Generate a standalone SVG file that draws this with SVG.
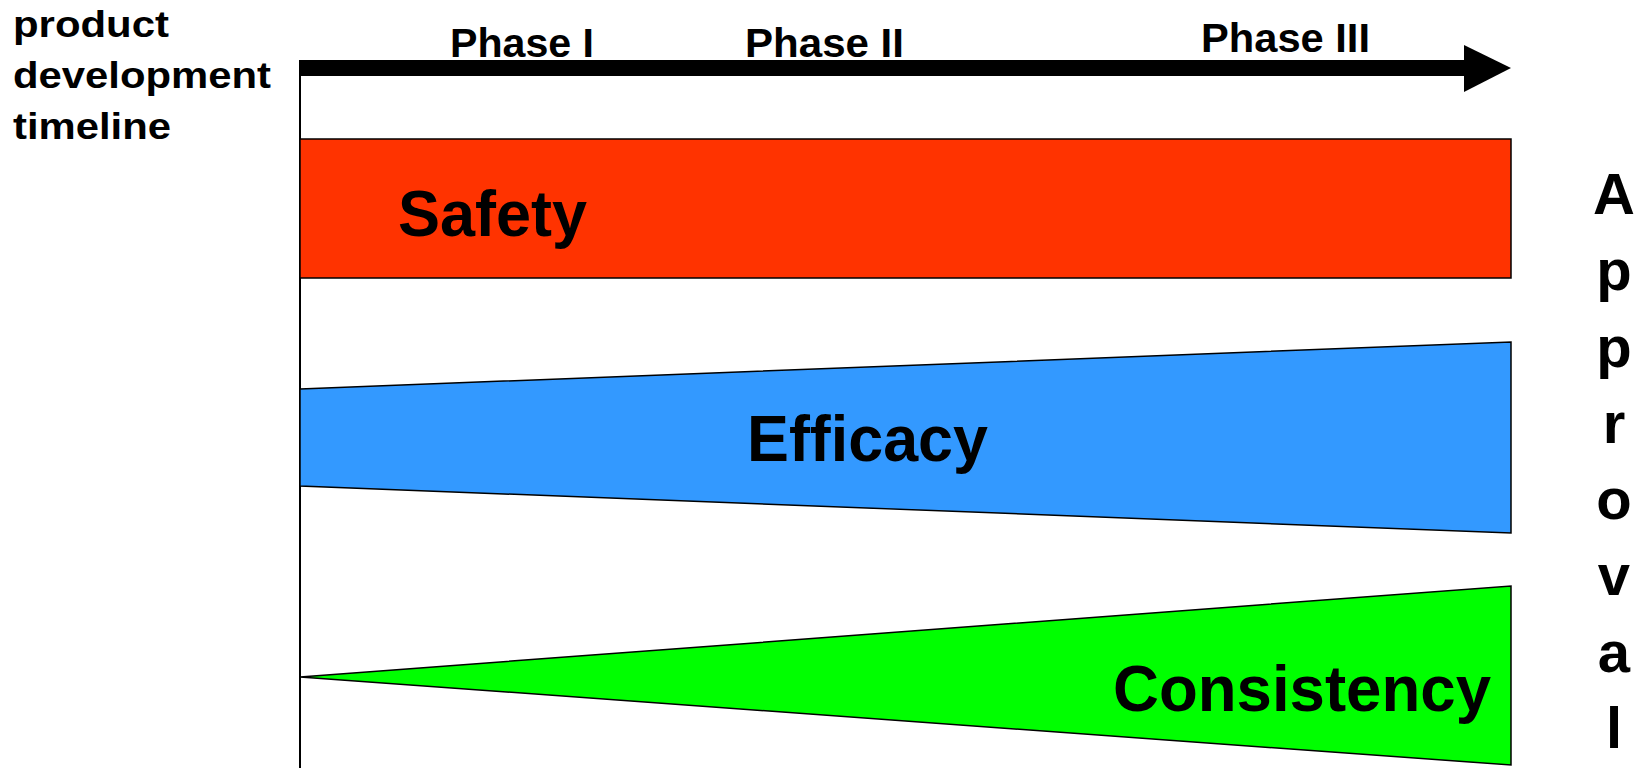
<svg xmlns="http://www.w3.org/2000/svg" width="1643" height="768" viewBox="0 0 1643 768">
  <style>
    .lbl { font-family: "Liberation Sans", Arial, sans-serif; font-weight: bold; fill: #000; }
    .side { font-size: 37px; }
    .phase { font-size: 40px; }
    .big { font-size: 64px; }
    .appr { font-size: 58px; text-anchor: middle; }
    .band { stroke: #000; stroke-width: 1.5; stroke-linejoin: miter; }
  </style>
  <rect width="1643" height="768" fill="#fff"/>

  <!-- timeline axis: vertical baseline and arrow -->
  <g id="connectors">
    <line x1="300" y1="60" x2="300" y2="768" stroke="#000" stroke-width="2"/>
    <rect x="300" y="60" width="1166" height="16" fill="#000"/>
    <polygon points="1464,45 1511,68 1464,92" fill="#000"/>
  </g>

  <g id="timeline-label">
    <text class="lbl side" x="13" y="37" textLength="156" lengthAdjust="spacingAndGlyphs">product</text>
    <text class="lbl side" x="13" y="88" textLength="258" lengthAdjust="spacingAndGlyphs">development</text>
    <text class="lbl side" x="13" y="139" textLength="158" lengthAdjust="spacingAndGlyphs">timeline</text>
  </g>

  <g id="phases">
    <text class="lbl phase" x="450" y="57" textLength="144" lengthAdjust="spacingAndGlyphs">Phase I</text>
    <text class="lbl phase" x="745" y="57" textLength="159" lengthAdjust="spacingAndGlyphs">Phase II</text>
    <text class="lbl phase" x="1201" y="52" textLength="169" lengthAdjust="spacingAndGlyphs">Phase III</text>
  </g>

  <g id="safety">
    <rect class="band" x="300" y="139" width="1211" height="139" fill="#FF3300"/>
    <text class="lbl big" x="398" y="236" textLength="189" lengthAdjust="spacingAndGlyphs">Safety</text>
  </g>

  <g id="efficacy">
    <polygon class="band" points="300,389 1511,342 1511,533 300,486" fill="#3399FF"/>
    <text class="lbl big" x="747" y="461" textLength="241" lengthAdjust="spacingAndGlyphs">Efficacy</text>
  </g>

  <g id="consistency">
    <polygon class="band" points="300,677 1511,586 1511,765" fill="#00FF00"/>
    <text class="lbl big" x="1113" y="711" textLength="378" lengthAdjust="spacingAndGlyphs">Consistency</text>
  </g>

  <g id="approval">
    <text class="lbl appr" x="1614" y="214">A</text>
    <text class="lbl appr" x="1614" y="290">p</text>
    <text class="lbl appr" x="1614" y="367">p</text>
    <text class="lbl appr" x="1614" y="443">r</text>
    <text class="lbl appr" x="1614" y="519">o</text>
    <text class="lbl appr" x="1614" y="595">v</text>
    <text class="lbl appr" x="1614" y="672">a</text>
    <text class="lbl appr" x="1614" y="748">l</text>
  </g>
</svg>
